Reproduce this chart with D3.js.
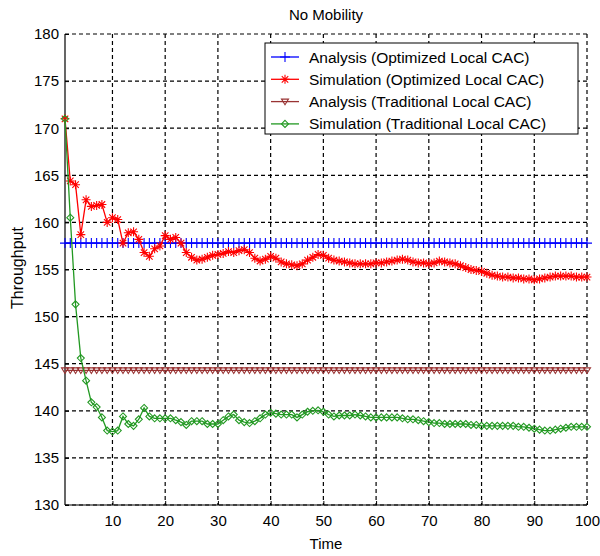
<!DOCTYPE html>
<html><head><meta charset="utf-8">
<script src="https://cdn.jsdelivr.net/npm/d3@7"></script>
<style>body{margin:0;background:#fff}svg{display:block}text{font-family:"Liberation Sans",Arial,sans-serif;fill:#000}</style>
</head><body><svg id="c" width="600" height="556"></svg>
<script>
const title = "No Mobility";
const xLabel = "Time";
const yLabel = "Throughput";
const xTicks = [10,20,30,40,50,60,70,80,90,100];
const yTicks = [130,135,140,145,150,155,160,165,170,175,180];
const seriesNames = ["Analysis (Optimized Local CAC)","Simulation (Optimized Local CAC)","Analysis (Traditional Local CAC)","Simulation (Traditional Local CAC)"];
const analysisOptimized = 157.8;
const analysisTraditional = 144.3;
const simOptimized = [171.0,164.4,164.0,158.7,162.4,161.7,161.8,161.9,160.0,160.5,
160.3,157.8,158.9,159.0,158.2,156.8,156.4,157.2,157.5,158.6,
158.2,158.4,157.8,156.8,156.3,156.0,156.1,156.3,156.5,156.6,
156.7,156.9,156.8,157.0,157.1,156.8,156.2,155.9,156.1,156.4,
156.2,155.8,155.6,155.5,155.4,155.6,156.0,156.3,156.6,156.5,
156.2,156.0,155.9,155.8,155.7,155.6,155.6,155.6,155.6,155.7,
155.7,155.8,155.9,156.0,156.1,156.0,155.8,155.7,155.7,155.6,
155.7,155.9,155.8,155.7,155.6,155.4,155.2,155.0,154.9,154.8,
154.6,154.4,154.3,154.2,154.2,154.1,154.1,154.0,154.0,153.9,
154.0,154.1,154.2,154.3,154.3,154.3,154.3,154.2,154.2,154.2];
const simTraditional = [171.0,160.5,151.3,145.6,143.2,140.9,140.4,139.3,137.9,137.8,
137.9,139.4,138.6,138.4,139.1,140.3,139.4,139.2,139.2,139.2,
139.2,139.0,138.8,138.5,138.9,138.9,138.9,138.6,138.6,138.6,
139.0,139.4,139.6,139.0,138.8,138.7,138.9,139.2,139.6,139.8,
139.7,139.6,139.6,139.6,139.3,139.6,139.9,140.0,140.05,139.9,
139.6,139.4,139.5,139.5,139.5,139.6,139.5,139.4,139.3,139.3,
139.3,139.3,139.3,139.3,139.2,139.1,139.1,139.0,138.9,138.8,
138.7,138.7,138.6,138.6,138.6,138.6,138.6,138.5,138.5,138.4,
138.4,138.4,138.4,138.4,138.4,138.4,138.3,138.3,138.2,138.1,
138.0,137.9,137.9,138.0,138.1,138.2,138.3,138.3,138.3,138.3];
const times = d3.range(1, 101);

const colors = ["#0000ff","#ff0000","#993333","#229922"];
const svg = d3.select("#c");
const L = 65, R = 587, T = 34, B = 505;
const x = d3.scaleLinear().domain([1,100]).range([L,R]);
const y = d3.scaleLinear().domain([130,180]).range([B,T]);

// grid
const g = svg.append("g");
g.selectAll(".gx").data(xTicks).join("line")
  .attr("x1",d=>x(d)).attr("x2",d=>x(d)).attr("y1",T).attr("y2",B)
  .attr("stroke","#000").attr("stroke-dasharray","4,3").attr("stroke-width",1.2);
g.selectAll(".gy").data(yTicks).join("line")
  .attr("x1",L).attr("x2",R).attr("y1",d=>y(d)).attr("y2",d=>y(d))
  .attr("stroke","#000").attr("stroke-dasharray","4,3").attr("stroke-width",1.2);

// axes
const ax = d3.axisBottom(x).tickValues(xTicks).tickSize(-4).tickPadding(10);
const ay = d3.axisLeft(y).tickValues(yTicks).tickSize(-4).tickPadding(6);
const gx = svg.append("g").attr("transform",`translate(0,${B})`).call(ax);
const gy = svg.append("g").attr("transform",`translate(${L},0)`).call(ay);
[gx,gy].forEach(a=>{
  a.select(".domain").remove();
  a.selectAll("line").attr("stroke","#000");
  a.selectAll("text").attr("font-size",15).attr("font-family","Liberation Sans, Arial, sans-serif").attr("fill","#000");
});
svg.append("line").attr("x1",L).attr("x2",L).attr("y1",T).attr("y2",B).attr("stroke","#000").attr("stroke-width",1.2);
svg.append("line").attr("x1",L).attr("x2",R).attr("y1",B).attr("y2",B).attr("stroke","#000").attr("stroke-width",1.2);

const line = d3.line().x((d,i)=>x(times[i])).y(d=>y(d));

function plus(sel, s){ return `M${-s},0H${s}M0,${-s}V${s}`; }
function star(s){ const d=s*0.72; return `M${-s},0H${s}M0,${-s}V${s}M${-d},${-d}L${d},${d}M${-d},${d}L${d},${-d}`; }
function diamond(s){ return `M0,${-s}L${s},0L0,${s}L${-s},0Z`; }
function tri(s){ return `M${-s},${-s*0.7}L${s},${-s*0.7}L0,${s*0.9}Z`; }

function drawSeries(vals, color, marker, fill){
  const G = svg.append("g");
  G.append("path").attr("d", line(vals)).attr("fill","none").attr("stroke",color).attr("stroke-width",1.3);
  G.selectAll("path.m").data(vals).join("path").attr("class","m")
    .attr("transform",(d,i)=>`translate(${x(times[i])},${y(d)})`)
    .attr("d",marker).attr("fill",fill||"none").attr("stroke",color).attr("stroke-width",1.1);
}
const aOpt = times.map(()=>analysisOptimized);
const aTra = times.map(()=>analysisTraditional);
drawSeries(aOpt, colors[0], plus(null,5));
drawSeries(simOptimized, colors[1], star(4.5));
drawSeries(aTra, colors[2], tri(3.5));
drawSeries(simTraditional, colors[3], diamond(3.5));

// labels
svg.append("text").attr("x",326).attr("y",20).attr("text-anchor","middle").attr("font-size",15).text(title);
svg.append("text").attr("x",326).attr("y",549).attr("text-anchor","middle").attr("font-size",15).text(xLabel);
svg.append("text").attr("transform","translate(23,268) rotate(-90)").attr("text-anchor","middle").attr("font-size",16).text(yLabel);

// legend
const lg = svg.append("g");
lg.append("rect").attr("x",265).attr("y",43).attr("width",313).attr("height",91)
  .attr("fill","#fff").attr("stroke","#000").attr("stroke-width",1);
const markers = [plus(null,5), star(4.5), tri(3.5), diamond(3.5)];
seriesNames.forEach((n,i)=>{
  const yy = 57 + i*22.3;
  lg.append("line").attr("x1",271).attr("x2",299).attr("y1",yy).attr("y2",yy).attr("stroke",colors[i]).attr("stroke-width",1.3);
  lg.append("path").attr("transform",`translate(285,${yy})`).attr("d",markers[i]).attr("fill","none").attr("stroke",colors[i]).attr("stroke-width",1.1);
  lg.append("text").attr("x",309).attr("y",yy+5.5).attr("font-size",15.5).text(n);
});
</script></body></html>
